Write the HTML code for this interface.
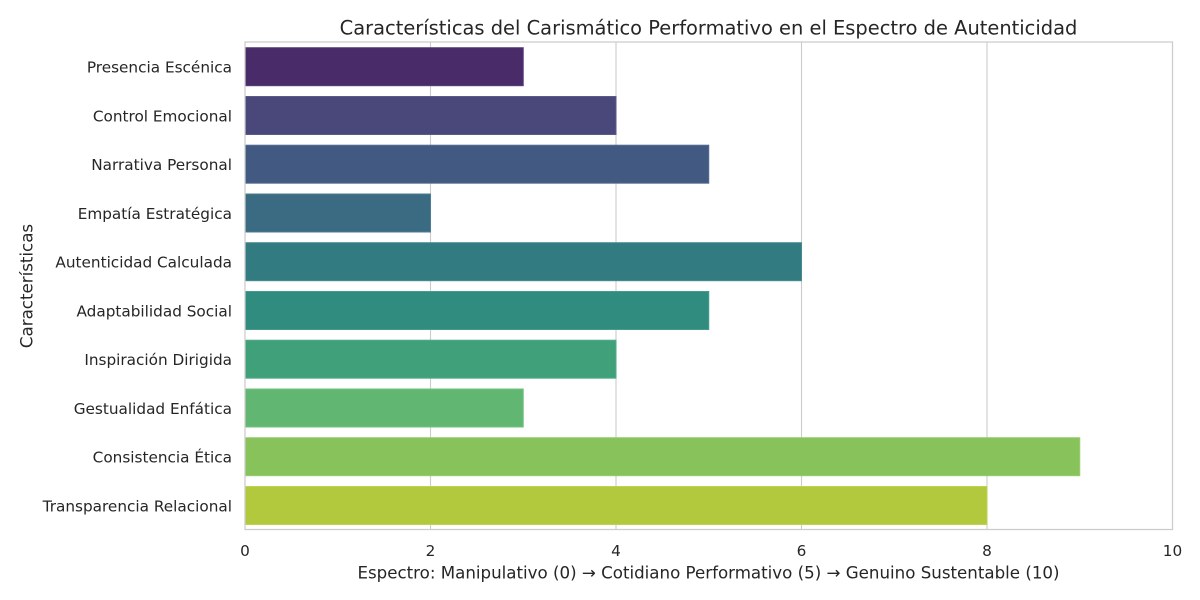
<!DOCTYPE html>
<html>
<head>
<meta charset="utf-8">
<style>
  html,body{margin:0;padding:0;background:#fff;}
  svg{display:block;}
  text{font-family:"DejaVu Sans","Liberation Sans",sans-serif;fill:#262626;}
</style>
</head>
<body>
<svg width="1200" height="600" viewBox="0 0 1200 600" xmlns="http://www.w3.org/2000/svg">
  <rect x="0" y="0" width="1200" height="600" fill="#ffffff"/>
  <!-- grid -->
  <g stroke="#cccccc" stroke-width="1.1">
    <line x1="430.5" y1="42" x2="430.5" y2="529.5"/>
    <line x1="616" y1="42" x2="616" y2="529.5"/>
    <line x1="801.5" y1="42" x2="801.5" y2="529.5"/>
    <line x1="987" y1="42" x2="987" y2="529.5"/>
  </g>
  <!-- bars -->
  <g stroke-width="1">
    <rect x="245" y="47.7" width="278.25" height="38" fill="#482b68" stroke="#5a3f78"/>
    <rect x="245" y="96.5" width="371" height="38" fill="#4a477b" stroke="#5d5a8a"/>
    <rect x="245" y="145.2" width="463.75" height="38" fill="#425a81" stroke="#566c90"/>
    <rect x="245" y="194.0" width="185.5" height="38" fill="#3a6b82" stroke="#4f7d92"/>
    <rect x="245" y="242.7" width="556.5" height="38" fill="#327b80" stroke="#478b90"/>
    <rect x="245" y="291.5" width="463.75" height="38" fill="#308c7e" stroke="#469b8e"/>
    <rect x="245" y="340.2" width="371" height="38" fill="#3fa07a" stroke="#54ad8a"/>
    <rect x="245" y="389.0" width="278.25" height="38" fill="#61b671" stroke="#74c282"/>
    <rect x="245" y="437.7" width="834.75" height="38" fill="#88c25b" stroke="#98cc6d"/>
    <rect x="245" y="486.5" width="742" height="38" fill="#b3c93d" stroke="#bfd352"/>
  </g>
  <!-- spines -->
  <rect x="245" y="42" width="927.5" height="487.5" fill="none" stroke="#cccccc" stroke-width="1.25"/>
  <!-- y tick labels -->
  <g font-size="15.28" text-anchor="end">
    <text x="232" y="72.5">Presencia Escénica</text>
    <text x="232" y="121.3">Control Emocional</text>
    <text x="232" y="170.0">Narrativa Personal</text>
    <text x="232" y="218.8">Empatía Estratégica</text>
    <text x="232" y="267.5">Autenticidad Calculada</text>
    <text x="232" y="316.3">Adaptabilidad Social</text>
    <text x="232" y="365.0">Inspiración Dirigida</text>
    <text x="232" y="413.8">Gestualidad Enfática</text>
    <text x="232" y="462.5">Consistencia Ética</text>
    <text x="232" y="511.3">Transparencia Relacional</text>
  </g>
  <!-- x tick labels -->
  <g font-size="15.28" text-anchor="middle">
    <text x="245" y="556">0</text>
    <text x="430.5" y="556">2</text>
    <text x="616" y="556">4</text>
    <text x="801.5" y="556">6</text>
    <text x="987" y="556">8</text>
    <text x="1172.5" y="556">10</text>
  </g>
  <!-- axis labels -->
  <text x="708.5" y="578.5" font-size="16.67" text-anchor="middle">Espectro: Manipulativo (0) → Cotidiano Performativo (5) → Genuino Sustentable (10)</text>
  <text transform="translate(32.5,286) rotate(-90)" font-size="16.67" text-anchor="middle">Características</text>
  <!-- title -->
  <text x="708.5" y="34.3" font-size="19.44" text-anchor="middle">Características del Carismático Performativo en el Espectro de Autenticidad</text>
</svg>
</body>
</html>
